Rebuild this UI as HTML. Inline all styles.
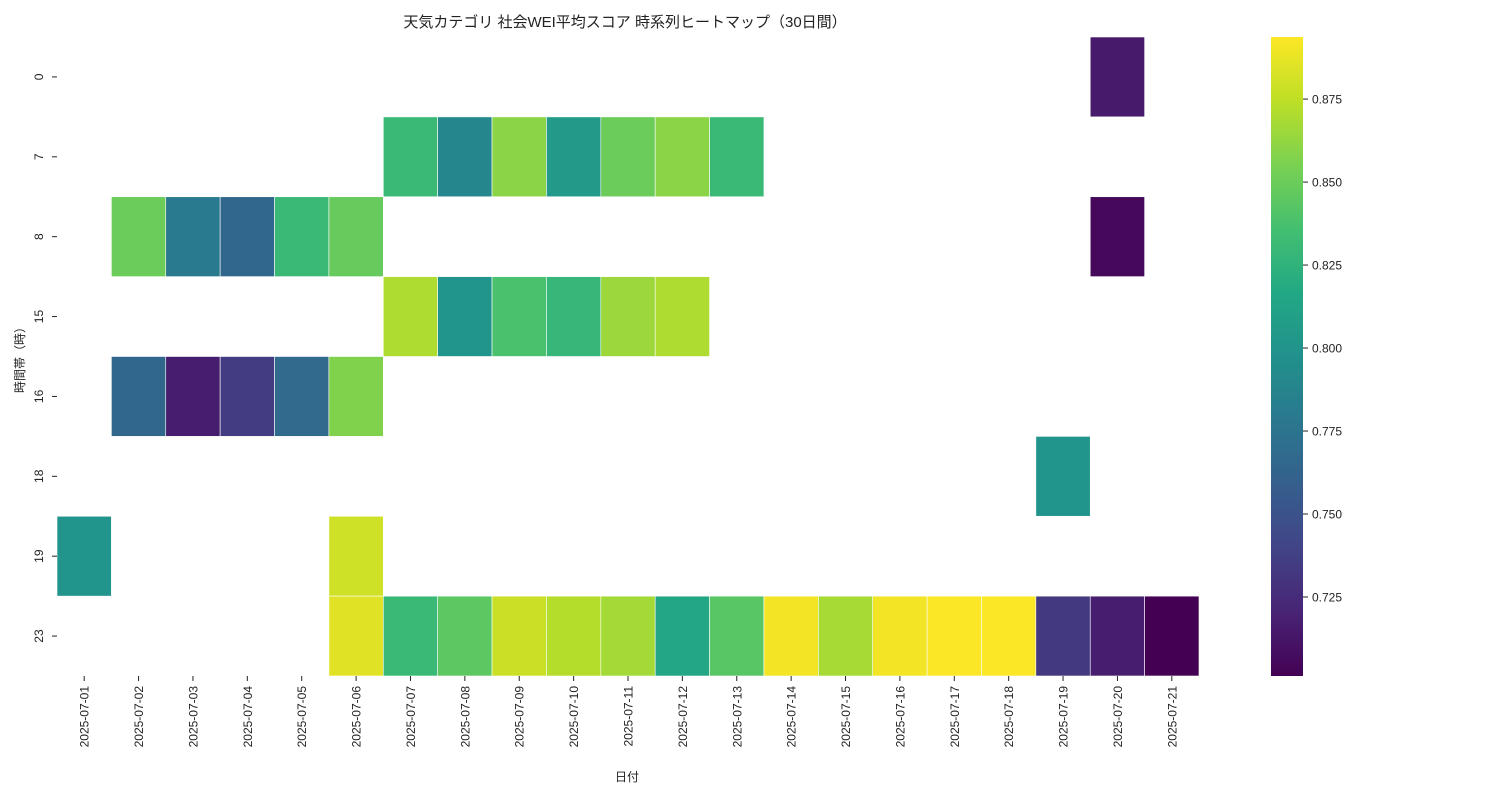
<!DOCTYPE html>
<html><head><meta charset="utf-8"><style>
body{margin:0;background:#fff;}
svg text{font-family:"Liberation Sans","Noto Sans CJK JP",sans-serif;fill:#222;}
</style></head><body>
<svg id="chart" width="1500" height="800" xmlns="http://www.w3.org/2000/svg">
<text x="625" y="27" font-size="15" text-anchor="middle">天気カテゴリ 社会WEI平均スコア 時系列ヒートマップ（30日間）</text>
<text transform="translate(24,357) rotate(-90)" font-size="12" text-anchor="middle">時間帯（時）</text>
<text x="627" y="781" font-size="12" text-anchor="middle">日付</text>
<defs><linearGradient id="vir" x1="0" y1="1" x2="0" y2="0"></linearGradient></defs>
<g id="cells"></g>
<g id="xt"></g>
<g id="yt"></g>
<rect x="1271" y="37" width="32" height="639" fill="url(#vir)"/>
<g id="ct"></g>
</svg>
<script>
const dates=["2025-07-01","2025-07-02","2025-07-03","2025-07-04","2025-07-05","2025-07-06","2025-07-07","2025-07-08","2025-07-09","2025-07-10","2025-07-11","2025-07-12","2025-07-13","2025-07-14","2025-07-15","2025-07-16","2025-07-17","2025-07-18","2025-07-19","2025-07-20","2025-07-21"];
const hours=["0","7","8","15","16","18","19","23"];
const N=null;
const row0=[N,N,N,N,N,N,N,N,N,N,N,N,N,N,N,N,N,N,N,0.715,N];
const row7=[N,N,N,N,N,N,0.830,0.790,0.860,0.805,0.850,0.860,0.830,N,N,N,N,N,N,N,N];
const row8=[N,0.850,0.780,0.765,0.830,0.848,N,N,N,N,N,N,N,N,N,N,N,N,N,0.705,N];
const row15=[N,N,N,N,N,N,0.870,0.800,0.838,0.828,0.865,0.870,N,N,N,N,N,N,N,N,N];
const row16=[N,0.765,0.717,0.735,0.768,0.857,N,N,N,N,N,N,N,N,N,N,N,N,N,N,N];
const row18=[N,N,N,N,N,N,N,N,N,N,N,N,N,N,N,N,N,N,0.800,N,N];
const row19=[0.800,N,N,N,N,0.880,N,N,N,N,N,N,N,N,N,N,N,N,N,N,N];
const row23=[N,N,N,N,N,0.885,0.830,0.845,0.878,0.872,0.867,0.815,0.843,0.890,0.868,0.890,0.893,0.893,0.733,0.717,0.701];
const rows=[row0,row7,row8,row15,row16,row18,row19,row23];
const cbTicks=[0.725,0.750,0.775,0.800,0.825,0.850,0.875];
const vmin=0.7012,vmax=0.8937;
const stops=["#440154","#482475","#414487","#355f8d","#2a788e","#21918c","#22a884","#44bf70","#7ad151","#bddf26","#fde725"];
const X0=57,X1=1199,Y0=37,Y1=676;
const cw=(X1-X0)/dates.length,ch=(Y1-Y0)/hours.length;
const xs=i=>X0+i*cw, ys=j=>Y0+j*ch;
const cy=v=>Y1-(v-vmin)/(vmax-vmin)*(Y1-Y0);
function hex(h){return[1,3,5].map(k=>parseInt(h.substr(k,2),16));}
function col(v){let t=Math.max(0,Math.min(1,(v-vmin)/(vmax-vmin)))*10;let i=Math.min(9,Math.floor(t)),f=t-i;
const a=hex(stops[i]),b=hex(stops[i+1]);return"rgb("+a.map((c,k)=>Math.round(c+(b[k]-c)*f)).join(",")+")";}
const NS="http://www.w3.org/2000/svg";
function mk(tag,attrs,parent){const e=document.createElementNS(NS,tag);for(const k in attrs)e.setAttribute(k,attrs[k]);parent.appendChild(e);return e;}
const g=document.getElementById("vir");
stops.forEach((s,i)=>mk("stop",{offset:(i*10)+"%","stop-color":s},g));
const cells=document.getElementById("cells");
rows.forEach((r,j)=>r.forEach((v,i)=>{if(v===null)return;
const el=mk("rect",{x:xs(i),y:ys(j),width:cw,height:ch,fill:col(v),stroke:"#fff","stroke-width":0.6},cells);

}));
const xt=document.getElementById("xt");
dates.forEach((d,i)=>{const x=xs(i)+cw/2;
const l=mk("line",{x1:x,x2:x,y1:Y1,y2:Y1+5,stroke:"#222"},xt);


const t=mk("text",{transform:"translate("+(x+4.5)+","+(Y1+10)+") rotate(-90)","font-size":"12","text-anchor":"end"},xt);
t.textContent=d;

});
const yt=document.getElementById("yt");
hours.forEach((h,j)=>{const y=ys(j)+ch/2;
const l=mk("line",{x1:X0-5,x2:X0,y1:y,y2:y,stroke:"#222"},yt);


const t=mk("text",{transform:"translate("+(X0-14)+","+y+") rotate(-90)","font-size":"12","text-anchor":"middle"},yt);
t.textContent=h;

});
const ct=document.getElementById("ct");
cbTicks.forEach(v=>{const y=cy(v);
const l=mk("line",{x1:1303,x2:1308,y1:y,y2:y,stroke:"#222"},ct);


const t=mk("text",{x:1312,y:y+4.5,"font-size":"12"},ct);
t.textContent=v.toFixed(3);

});
</script>
</body></html>
